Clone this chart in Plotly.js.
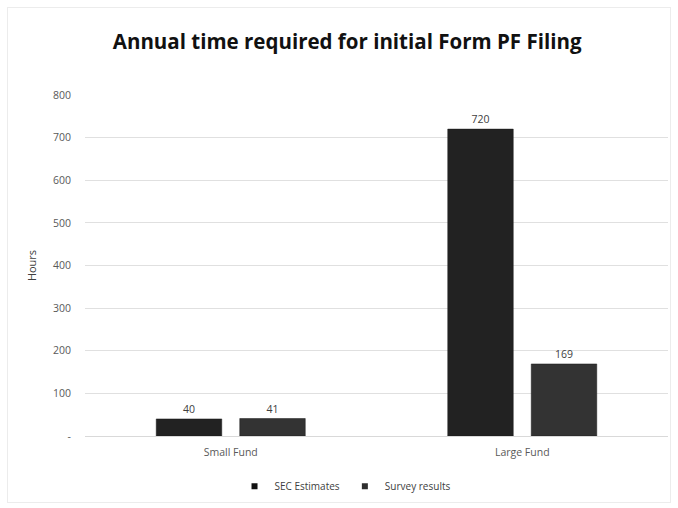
<!DOCTYPE html>
<html>
<head>
<meta charset="utf-8">
<script src="https://cdn.plot.ly/plotly-3.0.1.min.js"></script>
<style>
html,body{margin:0;padding:0;background:#fff;}
#chart{width:678px;height:508px;position:relative;}
#frame{position:absolute;left:7px;top:7px;width:662px;height:494px;border:1px solid #ececec;pointer-events:none;}
</style>
</head>
<body>
<div id="chart"></div>
<div id="frame"></div>
<script>
var categories = ["Small Fund", "Large Fund"];
var secEstimates = [40, 720];
var surveyResults = [41, 169];
var seriesNames = ["SEC Estimates", "Survey results"];
var seriesColors = ["#222222", "#333333"];
var legendColors = ["#111111", "#2e2e2e"];
var yTickVals = [0, 100, 200, 300, 400, 500, 600, 700, 800];
var yTickText = ["-", "100", "200", "300", "400", "500", "600", "700", "800"];

var fontFam = "Open Sans, Liberation Sans, sans-serif";

var barData = [secEstimates, surveyResults];
var traces = [];
barData.forEach(function (vals, i) {
  traces.push({
    type: "bar", name: seriesNames[i], x: categories, y: vals,
    marker: {color: seriesColors[i], line: {color: "#1a1a1a", width: 0.5}},
    text: vals.map(String), textposition: "outside", cliponaxis: false,
    textfont: {family: fontFam, size: 10.5, color: "#404040"},
    showlegend: false
  });
});
// legend entries with small square markers
seriesNames.forEach(function (nm, i) {
  traces.push({
    type: "scatter", mode: "markers", name: nm, x: [null], y: [null],
    marker: {symbol: "square", size: 6, color: legendColors[i]},
    showlegend: true
  });
});

var layout = {
  width: 678, height: 508,
  margin: {l: 85, r: 10, t: 95, b: 72, autoexpand: false},
  paper_bgcolor: "#ffffff", plot_bgcolor: "#ffffff",
  font: {family: fontFam, color: "#404040"},
  title: {
    text: "<b>Annual time required for initial Form PF Filing</b>",
    font: {family: fontFam, size: 20.5, color: "#111111"},
    x: 0.512, xanchor: "center", y: 0.918, yanchor: "middle"
  },
  barmode: "group", bargap: 0.427, bargroupgap: 0.2156,
  showlegend: true,
  legend: {
    orientation: "h", x: 0.446, xanchor: "center", y: -0.105, yanchor: "top",
    font: {family: fontFam, size: 10, color: "#404040"},
    itemwidth: 30, traceorder: "normal", tracegroupgap: 0
  },
  xaxis: {
    type: "category", showgrid: false, showline: false, zeroline: false,
    ticks: "", ticklabelstandoff: 8,
    tickfont: {family: fontFam, size: 10.5, color: "#595959"}
  },
  yaxis: {
    range: [0, 800], tickvals: yTickVals, ticktext: yTickText,
    showgrid: true, gridcolor: "#e0e0e0", gridwidth: 1,
    zeroline: true, zerolinecolor: "#d9d9d9", zerolinewidth: 1,
    showline: false, ticks: "", ticklabelstandoff: 13,
    tickfont: {family: fontFam, size: 10.5, color: "#595959"},
    title: {text: "Hours", font: {family: fontFam, size: 11, color: "#404040"}, standoff: 14}
  }
};

Plotly.newPlot("chart", traces, layout, {displayModeBar: false, staticPlot: true});
</script>
</body>
</html>
